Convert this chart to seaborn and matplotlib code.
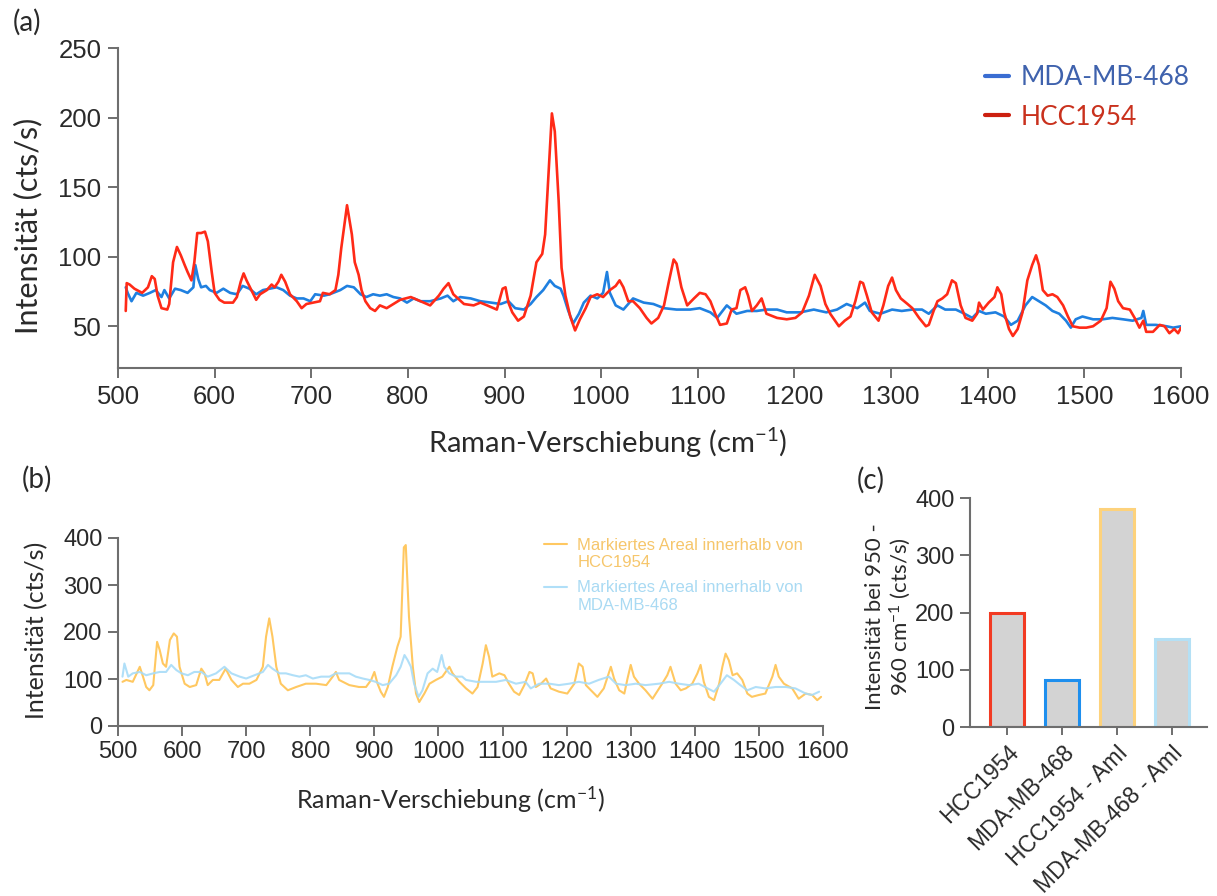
import numpy as np
import pandas as pd
import seaborn as sns
import matplotlib.pyplot as plt

# (a) mean spectra
hcc_x = [508, 509, 512, 517, 525, 531, 535, 538, 541, 545,
         551, 553, 557, 561, 565, 569, 572, 576, 579, 582,
         586, 590, 593, 597, 600, 605, 610, 619, 623, 627,
         630, 633, 638, 643, 647, 654, 659, 662, 666, 669,
         673, 678, 685, 690, 695, 702, 709, 712, 719, 725,
         728, 731, 737, 742, 745, 749, 752, 756, 761, 766,
         771, 778, 785, 792, 803, 813, 823, 832, 837, 842,
         847, 858, 868, 875, 882, 892, 898, 901, 904, 908,
         914, 920, 927, 933, 939, 942, 946, 949, 952, 956,
         959, 963, 968, 973, 978, 984, 989, 996, 1002, 1009,
         1015, 1019, 1023, 1028, 1033, 1040, 1047, 1052, 1059, 1065,
         1070, 1075, 1078, 1083, 1089, 1096, 1102, 1108, 1113, 1118,
         1123, 1130, 1135, 1140, 1144, 1149, 1152, 1156, 1161, 1166,
         1171, 1182, 1192, 1201, 1208, 1215, 1221, 1227, 1232, 1237,
         1246, 1252, 1258, 1263, 1268, 1271, 1275, 1280, 1287, 1292,
         1297, 1301, 1305, 1310, 1317, 1322, 1329, 1336, 1339, 1344,
         1348, 1353, 1358, 1363, 1367, 1372, 1377, 1384, 1389, 1391,
         1395, 1401, 1407, 1410, 1414, 1417, 1422, 1426, 1431, 1436,
         1441, 1446, 1450, 1453, 1457, 1462, 1467, 1472, 1478, 1483,
         1488, 1495, 1502, 1509, 1517, 1523, 1527, 1531, 1535, 1540,
         1547, 1552, 1557, 1561, 1564, 1571, 1578, 1583, 1588, 1593,
         1597, 1600]
hcc_y = [61, 81, 80, 77, 74, 78, 86, 84, 72, 63,
         62, 66, 96, 107, 101, 94, 89, 83, 96, 117,
         117, 118, 111, 89, 74, 69, 67, 67, 71, 82,
         88, 83, 76, 69, 73, 76, 80, 78, 82, 87,
         82, 73, 68, 63, 66, 67, 68, 74, 73, 76,
         87, 106, 137, 116, 96, 87, 76, 68, 63, 61,
         65, 63, 66, 69, 71, 68, 65, 72, 77, 81,
         73, 66, 65, 67, 65, 62, 77, 78, 67, 60,
         54, 57, 72, 96, 102, 116, 165, 203, 190, 140,
         92, 72, 57, 47, 55, 63, 71, 73, 71, 76,
         79, 83, 78, 68, 68, 63, 56, 52, 56, 65,
         82, 98, 95, 78, 65, 70, 74, 73, 68, 59,
         51, 52, 62, 63, 76, 78, 72, 61, 65, 70,
         59, 56, 55, 56, 60, 72, 87, 79, 66, 59,
         50, 54, 57, 68, 82, 81, 72, 60, 54, 65,
         79, 85, 76, 70, 66, 63, 56, 50, 51, 61,
         68, 70, 73, 83, 81, 65, 56, 54, 59, 67,
         62, 67, 71, 78, 73, 60, 48, 43, 48, 60,
         83, 94, 101, 94, 76, 72, 73, 71, 65, 57,
         50, 49, 49, 50, 54, 63, 82, 77, 68, 63,
         62, 56, 49, 54, 46, 46, 51, 50, 45, 48,
         45, 49]

mda_x = [508, 510, 514, 519, 526, 533, 539, 545, 548, 553,
         559, 565, 572, 578, 580, 583, 586, 591, 595, 602,
         609, 616, 623, 629, 636, 643, 650, 657, 664, 671,
         678, 685, 692, 699, 704, 713, 719, 730, 737, 744,
         751, 757, 764, 771, 778, 785, 792, 799, 806, 813,
         823, 834, 841, 847, 854, 865, 875, 886, 896, 904,
         911, 920, 927, 933, 940, 947, 952, 958, 961, 966,
         971, 977, 982, 989, 996, 1002, 1006, 1009, 1015, 1023,
         1033, 1044, 1054, 1065, 1078, 1092, 1102, 1113, 1120, 1130,
         1140, 1151, 1161, 1171, 1182, 1192, 1206, 1220, 1233, 1244,
         1254, 1265, 1273, 1278, 1289, 1301, 1311, 1322, 1332, 1339,
         1348, 1356, 1367, 1376, 1384, 1391, 1398, 1408, 1417, 1424,
         1431, 1439, 1446, 1453, 1460, 1467, 1474, 1481, 1486, 1491,
         1498, 1509, 1519, 1529, 1540, 1550, 1559, 1561, 1564, 1574,
         1585, 1592, 1600]
mda_y = [78, 74, 68, 74, 72, 74, 76, 71, 76, 70,
         77, 76, 74, 78, 94, 84, 78, 79, 76, 74,
         77, 74, 73, 79, 77, 73, 76, 77, 78, 76,
         72, 70, 70, 68, 73, 72, 73, 76, 79, 78,
         73, 71, 73, 72, 73, 71, 70, 67, 70, 68,
         68, 70, 72, 68, 71, 70, 68, 67, 66, 68,
         63, 62, 66, 71, 76, 83, 79, 77, 72, 61,
         52, 59, 67, 72, 70, 74, 89, 74, 65, 62,
         70, 67, 66, 63, 62, 62, 63, 60, 56, 65,
         59, 61, 61, 62, 62, 60, 60, 62, 60, 62,
         66, 63, 67, 61, 59, 62, 61, 62, 62, 59,
         65, 62, 62, 59, 56, 61, 59, 60, 57, 51,
         54, 65, 71, 68, 65, 61, 59, 54, 49, 55,
         57, 55, 55, 56, 55, 54, 56, 61, 51, 51,
         50, 49, 50]

# (b) spectra of the marked areas
hcc_area_x = [507, 513, 523, 534, 539, 544, 549, 555, 561, 565,
              570, 575, 581, 587, 592, 596, 604, 612, 622, 630,
              635, 640, 648, 658, 668, 677, 687, 695, 705, 716,
              726, 731, 736, 741, 747, 754, 765, 778, 793, 809,
              825, 835, 840, 845, 861, 876, 887, 895, 900, 905,
              910, 915, 921, 928, 936, 941, 946, 949, 954, 960,
              965, 970, 978, 986, 996, 1006, 1017, 1022, 1032, 1043,
              1053, 1061, 1069, 1074, 1079, 1084, 1095, 1103, 1110, 1118,
              1126, 1134, 1142, 1147, 1152, 1160, 1168, 1175, 1188, 1201,
              1212, 1219, 1225, 1230, 1238, 1248, 1258, 1264, 1269, 1274,
              1282, 1290, 1295, 1300, 1305, 1313, 1323, 1334, 1341, 1349,
              1357, 1362, 1370, 1378, 1386, 1396, 1404, 1409, 1414, 1422,
              1430, 1438, 1443, 1448, 1453, 1459, 1466, 1474, 1482, 1489,
              1500, 1510, 1521, 1526, 1531, 1539, 1552, 1562, 1573, 1583,
              1591, 1597]
hcc_area_y = [94, 98, 94, 126, 105, 83, 76, 87, 179, 162,
              133, 126, 183, 197, 190, 126, 90, 83, 87, 122,
              112, 87, 98, 98, 122, 98, 83, 90, 90, 98,
              126, 190, 229, 190, 126, 90, 76, 83, 90, 90,
              87, 105, 115, 98, 87, 83, 83, 98, 115, 90,
              73, 62, 83, 126, 169, 190, 380, 385, 233, 126,
              69, 51, 69, 90, 98, 105, 126, 112, 95, 80,
              69, 83, 133, 172, 147, 105, 112, 108, 90, 73,
              66, 87, 115, 112, 83, 90, 101, 80, 73, 69,
              90, 133, 126, 87, 76, 62, 80, 105, 126, 101,
              76, 69, 101, 130, 105, 90, 76, 58, 73, 90,
              108, 126, 90, 76, 80, 90, 112, 130, 94, 62,
              55, 90, 126, 154, 140, 108, 112, 98, 69, 62,
              66, 69, 105, 130, 105, 90, 80, 58, 69, 66,
              55, 62]

mda_area_x = [507, 510, 516, 523, 534, 544, 555, 565, 575, 583,
              591, 599, 609, 619, 630, 640, 653, 666, 677, 690,
              700, 713, 726, 734, 741, 752, 762, 773, 783, 793,
              804, 817, 830, 840, 851, 861, 871, 882, 892, 902,
              913, 923, 934, 941, 947, 952, 957, 962, 969, 975,
              983, 991, 998, 1005, 1009, 1017, 1027, 1037, 1043, 1059,
              1074, 1090, 1105, 1121, 1136, 1144, 1157, 1173, 1188, 1204,
              1219, 1235, 1250, 1266, 1277, 1292, 1308, 1323, 1344, 1360,
              1375, 1391, 1406, 1420, 1430, 1440, 1450, 1461, 1471, 1482,
              1495, 1510, 1526, 1542, 1557, 1573, 1583, 1594]
mda_area_y = [105, 133, 105, 112, 115, 108, 112, 115, 115, 130,
              119, 112, 108, 115, 115, 105, 112, 126, 112, 105,
              101, 108, 115, 130, 122, 112, 112, 108, 105, 108,
              101, 105, 105, 112, 112, 112, 105, 101, 98, 94,
              87, 90, 108, 126, 151, 140, 126, 90, 62, 76,
              112, 122, 115, 151, 126, 112, 105, 105, 98, 94,
              94, 94, 98, 90, 94, 80, 90, 90, 87, 90,
              94, 90, 98, 105, 90, 87, 90, 87, 90, 94,
              90, 87, 90, 80, 73, 90, 108, 98, 87, 76,
              83, 80, 83, 83, 80, 69, 66, 73]

# (c) intensity at 950-960 cm-1
bar_labels = ['HCC1954', 'MDA-MB-468', 'HCC1954 - AmI', 'MDA-MB-468 - AmI']
bar_values = [200, 82, 380, 153]
bar_edges = ['#f23b23', '#1e8fee', '#fdd27c', '#b4e0f5']

sns.set_style('ticks')
plt.rcParams['font.family'] = ['Liberation Sans', 'DejaVu Sans']
plt.rcParams['mathtext.fontset'] = 'custom'
plt.rcParams['mathtext.rm'] = 'Lato'
plt.rcParams['mathtext.it'] = 'Lato:italic'
plt.rcParams['mathtext.bf'] = 'Lato:bold'

LAB = 'Lato'
TICKF = 'Liberation Sans'
AXC = '#6e6e6e'
TXT = '#2a2a2a'

W, H = 1217, 896
fig = plt.figure(figsize=(W / 100, H / 100), dpi=100)
ax_a = fig.add_axes([118 / W, 1 - 368 / H, 1063 / W, 320 / H])
ax_b = fig.add_axes([118 / W, 1 - 726 / H, 705 / W, 188 / H])
ax_c = fig.add_axes([970 / W, 1 - 727 / H, 237 / W, 229 / H])

for ax in (ax_a, ax_b, ax_c):
    sns.despine(ax=ax)
    for s in ('left', 'bottom'):
        ax.spines[s].set_color(AXC)
        ax.spines[s].set_linewidth(1.5)
    ax.tick_params(color=AXC, width=1.4, length=7, labelcolor=TXT)

# ---- (a)
sns.lineplot(x=mda_x, y=mda_y, ax=ax_a, color='#1f80e0', lw=1.9, label='MDA-MB-468')
sns.lineplot(x=hcc_x, y=hcc_y, ax=ax_a, color='#ff2a17', lw=1.9, label='HCC1954')
ax_a.set_xlim(500, 1600)
ax_a.set_ylim(20, 250)
ax_a.set_xticks(range(500, 1601, 100))
ax_a.set_yticks([50, 100, 150, 200, 250])
ax_a.tick_params(labelsize=18.5, pad=5)
ax_a.set_ylabel('Intensität (cts/s)', family=LAB, fontsize=22, color=TXT)
ax_a.yaxis.set_label_coords(-0.0715, 0.444)
ax_a.set_xlabel('Raman-Verschiebung (cm$^{-1}$)', family=LAB, fontsize=21, color=TXT)
ax_a.xaxis.set_label_coords(0.461, -0.18)
leg_a = ax_a.legend(loc='upper left', bbox_to_anchor=(985 / W, 1 - 65 / H),
                    bbox_transform=fig.transFigure, frameon=False,
                    prop={'family': LAB, 'size': 19}, handlelength=0.9,
                    handletextpad=0.45, labelspacing=0.55, borderpad=0, borderaxespad=0)
for txt, c in zip(leg_a.get_texts(), ['#3f62ad', '#c9311d']):
    txt.set_color(c)
for ln, c in zip(leg_a.get_lines(), ['#3a6dd2', '#cc2010']):
    ln.set_color(c)
    ln.set_linewidth(3)

# ---- (b)
sns.lineplot(x=hcc_area_x, y=hcc_area_y, ax=ax_b, color='#ffc861', lw=1.5,
             label='Markiertes Areal innerhalb von\nHCC1954')
sns.lineplot(x=mda_area_x, y=mda_area_y, ax=ax_b, color='#a8dcf8', lw=1.5, alpha=0.9,
             label='Markiertes Areal innerhalb von\nMDA-MB-468')
ax_b.set_xlim(500, 1600)
ax_b.set_ylim(0, 400)
ax_b.set_xticks(range(500, 1601, 100))
ax_b.set_yticks([0, 100, 200, 300, 400])
ax_b.tick_params(labelsize=17, pad=4)
ax_b.set_ylabel('Intensität (cts/s)', family=LAB, fontsize=18, color=TXT)
ax_b.yaxis.set_label_coords(-0.099, 0.51)
ax_b.set_xlabel('Raman-Verschiebung (cm$^{-1}$)', family=LAB, fontsize=18, color=TXT)
ax_b.xaxis.set_label_coords(0.472, -0.31)
leg_b = ax_b.legend(loc='upper left', bbox_to_anchor=(544 / W, 1 - 538 / H),
                    bbox_transform=fig.transFigure, frameon=False,
                    prop={'family': TICKF, 'size': 12}, handlelength=1.35,
                    handletextpad=0.65, labelspacing=0.6, borderpad=0, borderaxespad=0)
for txt, c in zip(leg_b.get_texts(), ['#f6c66b', '#a9daf3']):
    txt.set_color(c)
for ln in leg_b.get_lines():
    ln.set_ydata(np.asarray(ln.get_ydata()) + 7.2)

# ---- (c)
df_c = pd.DataFrame({'group': bar_labels, 'value': bar_values})
sns.barplot(data=df_c, x='group', y='value', ax=ax_c, color='#d3d3d3', saturation=1,
            width=0.62, linewidth=2.2, edgecolor='k')
for patch, ec in zip(ax_c.patches, bar_edges):
    patch.set_edgecolor(ec)
ax_c.set_xlim(-0.67, 3.64)
ax_c.set_ylim(0, 400)
ax_c.set_yticks([0, 100, 200, 300, 400])
ax_c.tick_params(labelsize=17, pad=4)
ax_c.tick_params(axis='x', length=6)
for lbl in ax_c.get_xticklabels():
    lbl.set_rotation(45)
    lbl.set_ha('right')
    lbl.set_rotation_mode('anchor')
    lbl.set_fontsize(16.5)
    lbl.set_family(TICKF)
ax_c.set_xlabel('')
ax_c.set_ylabel('Intensität bei 950 -\n960 cm$^{-1}$ (cts/s)', family=LAB, fontsize=16,
                color=TXT, linespacing=1.15)
ax_c.yaxis.set_label_coords(-0.24, 0.48)

# panel letters
fig.text(13 / W, 1 - 22 / H, '(a)', family=LAB, fontsize=20, color=TXT, va='center')
fig.text(22 / W, 1 - 479 / H, '(b)', family=LAB, fontsize=20, color=TXT, va='center')
fig.text(857 / W, 1 - 480 / H, '(c)', family=LAB, fontsize=20, color=TXT, va='center')

fig.savefig('out.png', dpi=100)
